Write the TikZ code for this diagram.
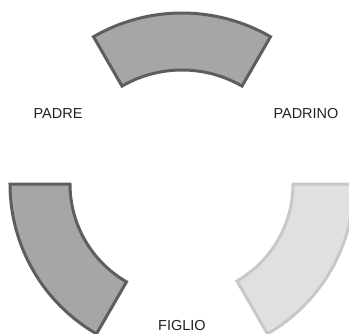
\documentclass[tikz,border=0pt]{standalone}
\usepackage{fontspec}
\setmainfont{Liberation Sans}
\definecolor{segdark}{HTML}{A6A6A6}
\definecolor{segdarkline}{HTML}{5E5E5E}
\definecolor{seglight}{HTML}{E0E0E0}
\definecolor{seglightline}{HTML}{C8C8C8}
\definecolor{labeltext}{HTML}{222222}
\tikzset{
  darkseg/.style={fill=segdark, draw=segdarkline, line width=3pt},
  lightseg/.style={fill=seglight, draw=seglightline, line width=3pt},
  lbl/.style={font=\fontsize{14.5}{16}\selectfont, text=labeltext, anchor=base, inner sep=0pt}
}
\begin{document}
\begin{tikzpicture}[x=1pt,y=1pt]
\useasboundingbox (0,0) rectangle (349,-333);
\clip (0,0) rectangle (349,-333);
% top segment
\begin{scope}[shift={(182,-190)}]
  \draw[darkseg] (60:177) arc[start angle=60,end angle=120,radius=177]
    -- (120:120) arc[start angle=120,end angle=60,radius=120] -- cycle;
\end{scope}
% bottom-left segment
\begin{scope}[shift={(183,-184)}]
  \draw[darkseg] (180:173) arc[start angle=180,end angle=240,radius=173]
    -- (240:113) arc[start angle=240,end angle=180,radius=113] -- cycle;
\end{scope}
% bottom-right segment
\begin{scope}[shift={(181,-184)}]
  \draw[lightseg] (300:173) arc[start angle=300,end angle=360,radius=173]
    -- (360:112) arc[start angle=360,end angle=300,radius=112] -- cycle;
\end{scope}
\node[lbl] (padre) at (58,-118.5) {PADRE};
\node[lbl] (padrino) at (306,-118.5) {PADRINO};
\node[lbl] (figlio) at (182,-330.5) {FIGLIO};
\end{tikzpicture}
\end{document}
